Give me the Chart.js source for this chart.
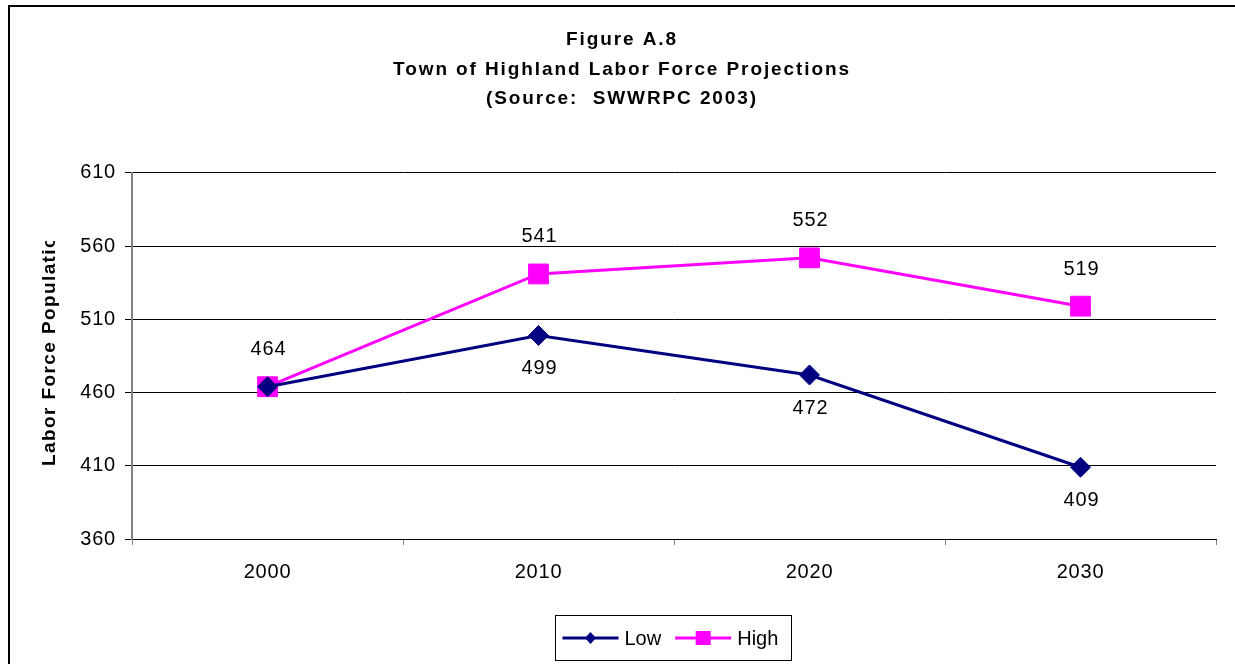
<!DOCTYPE html>
<html>
<head>
<meta charset="utf-8">
<script src="https://cdn.jsdelivr.net/npm/chart.js@4/dist/chart.umd.min.js"></script>
<style>
    html, body { margin: 0; padding: 0; background: #fff; }
    #wrap { width: 1235px; height: 664px; position: relative; }
</style>
</head>
<body>
<div id="wrap"><canvas id="laborForceChart"></canvas></div>
<script>
var years = ['2000', '2010', '2020', '2030'];
var lowValues = [464, 499, 472, 409];
var highValues = [464, 541, 552, 519];
var yTicks = [360, 410, 460, 510, 560, 610];
var titleLines = ['Figure A.8', 'Town of Highland Labor Force Projections', '(Source:  SWWRPC 2003)'];
var yAxisTitle = 'Labor Force Population';

var FONT = 'Arial, "Liberation Sans", sans-serif';
var LOW_COLOR = '#000080';
var HIGH_COLOR = '#FF00FF';
var TEXT_SPACING = '0.8px';   // plain labels
var BOLD_SPACING = '1.9px';   // bold titles are spread out in the original

Chart.defaults.font.family = FONT;
Chart.defaults.color = '#000';

var spacingPlugin = {
    id: 'spacing',
    beforeUpdate: function(chart) { chart.ctx.letterSpacing = TEXT_SPACING; },
    beforeDraw: function(chart) {
        chart.ctx.letterSpacing = TEXT_SPACING;
        var tb = chart.titleBlock;
        if (tb && !tb._spaced) {
            var origDraw = tb.draw;
            tb.draw = function() {
                var c = this.ctx;
                var prev = c.letterSpacing;
                c.letterSpacing = BOLD_SPACING;
                origDraw.apply(this, arguments);
                c.letterSpacing = prev;
            };
            tb._spaced = true;
        }
    }
};

// frame, y title, data labels, legend
var extrasPlugin = {
    id: 'extras',
    afterDraw: function(chart) {
        var ctx = chart.ctx;
        var area = chart.chartArea;
        ctx.save();

        // outer frame (left + top edges visible)
        ctx.strokeStyle = '#000';
        ctx.lineWidth = 2;
        ctx.beginPath();
        ctx.moveTo(9, chart.height);
        ctx.lineTo(9, 6);
        ctx.lineTo(chart.width, 6);
        ctx.stroke();

        // y axis title, cut off like the original
        ctx.save();
        ctx.beginPath();
        ctx.rect(0, 241, area.left, chart.height);
        ctx.clip();
        ctx.translate(55, 466);
        ctx.rotate(-Math.PI / 2);
        ctx.letterSpacing = '1.4px';
        ctx.font = 'bold 19px ' + FONT;
        ctx.fillStyle = '#000';
        ctx.textAlign = 'left';
        ctx.textBaseline = 'alphabetic';
        ctx.fillText(yAxisTitle, 0, 0);
        ctx.restore();

        // data labels
        ctx.letterSpacing = TEXT_SPACING;
        ctx.font = '20px ' + FONT;
        ctx.fillStyle = '#000';
        ctx.textAlign = 'center';
        ctx.textBaseline = 'middle';
        var highMeta = chart.getDatasetMeta(1);
        highMeta.data.forEach(function(pt, i) {
            ctx.fillText(String(highValues[i]), pt.x + 1, pt.y - 37);
        });
        var lowMeta = chart.getDatasetMeta(0);
        lowMeta.data.forEach(function(pt, i) {
            if (lowValues[i] === highValues[i]) return;
            ctx.fillText(String(lowValues[i]), pt.x + 1, pt.y + 33);
        });

        // legend
        ctx.letterSpacing = '0px';
        var cx = (area.left + area.right) / 2 - 1;
        var boxW = 236, boxH = 45;
        var bx = Math.round(cx - boxW / 2) + 0.5;
        var by = 615.5;
        ctx.strokeStyle = '#000';
        ctx.lineWidth = 1;
        ctx.strokeRect(bx, by, boxW, boxH);

        var items = [
            { label: 'Low', color: LOW_COLOR, style: 'diamond' },
            { label: 'High', color: HIGH_COLOR, style: 'square' }
        ];
        var x = bx + 7;
        var y = by + boxH / 2;
        items.forEach(function(it) {
            ctx.strokeStyle = it.color;
            ctx.fillStyle = it.color;
            ctx.lineWidth = 3;
            ctx.beginPath();
            ctx.moveTo(x, y);
            ctx.lineTo(x + 56, y);
            ctx.stroke();
            var mx = x + 28;
            ctx.beginPath();
            if (it.style === 'diamond') {
                ctx.moveTo(mx, y - 6);
                ctx.lineTo(mx + 5.5, y);
                ctx.lineTo(mx, y + 6);
                ctx.lineTo(mx - 5.5, y);
                ctx.closePath();
            } else {
                ctx.rect(mx - 7.5, y - 7, 15, 14);
            }
            ctx.fill();
            ctx.fillStyle = '#000';
            ctx.font = '20px ' + FONT;
            ctx.textAlign = 'left';
            ctx.fillText(it.label, x + 62, y + 1);
            x += 62 + ctx.measureText(it.label).width + 14;
        });

        ctx.restore();
    }
};

var ctx = document.getElementById('laborForceChart').getContext('2d');
new Chart(ctx, {
    type: 'line',
    data: {
        labels: years,
        datasets: [{
            label: 'Low',
            data: lowValues,
            borderColor: LOW_COLOR,
            backgroundColor: LOW_COLOR,
            borderWidth: 3,
            pointStyle: 'rectRot',
            pointRadius: 10,
            pointBorderWidth: 1,
            tension: 0
        }, {
            label: 'High',
            data: highValues,
            borderColor: HIGH_COLOR,
            backgroundColor: HIGH_COLOR,
            borderWidth: 3,
            pointStyle: 'rect',
            pointRadius: 14,
            pointBorderWidth: 1,
            tension: 0
        }]
    },
    options: {
        responsive: true,
        maintainAspectRatio: false,
        animation: false,
        events: [],
        layout: {
            padding: { left: 9, right: 0, top: 5, bottom: 0 }
        },
        plugins: {
            legend: { display: false },
            tooltip: { enabled: false },
            title: {
                display: true,
                text: titleLines,
                color: '#000',
                font: { size: 19, weight: 'bold', lineHeight: 1.56 },
                padding: { top: 20, bottom: 59 }
            }
        },
        scales: {
            x: {
                offset: true,
                grid: {
                    offset: true,
                    drawOnChartArea: false,
                    drawTicks: true,
                    tickLength: 6,
                    tickColor: '#808080'
                },
                border: { color: '#000', width: 1 },
                ticks: {
                    font: { size: 20 },
                    color: '#000',
                    padding: 15,
                    maxRotation: 0
                },
                afterFit: function(scale) { scale.height = 125; }
            },
            y: {
                min: yTicks[0],
                max: yTicks[yTicks.length - 1],
                afterBuildTicks: function(scale) {
                    scale.ticks = yTicks.map(function(v) { return { value: v }; });
                },
                grid: {
                    color: '#000',
                    lineWidth: 1,
                    tickLength: 7,
                    tickColor: '#000'
                },
                border: { color: '#808080', width: 2 },
                ticks: {
                    font: { size: 20 },
                    color: '#000',
                    padding: 9
                },
                afterFit: function(scale) { scale.width = 123; }
            },
            yRight: {
                position: 'right',
                display: true,
                min: yTicks[0],
                max: yTicks[yTicks.length - 1],
                grid: { display: false, drawTicks: false },
                border: { display: false },
                ticks: { display: false },
                afterFit: function(scale) { scale.width = 19; }
            }
        }
    },
    plugins: [spacingPlugin, extrasPlugin]
});
</script>
</body>
</html>
